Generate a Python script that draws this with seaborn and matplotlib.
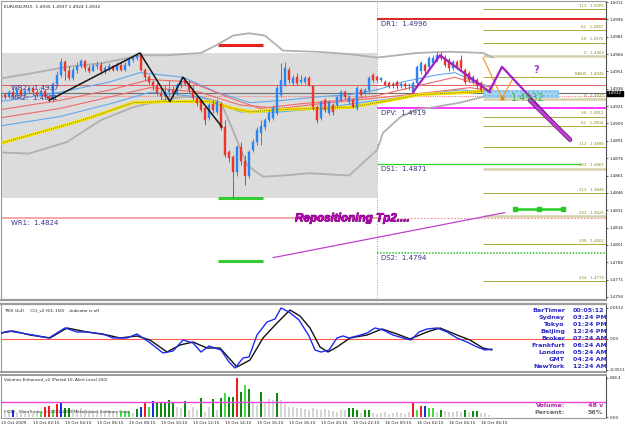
import numpy as np
import pandas as pd
import seaborn as sns
import matplotlib.pyplot as plt
import matplotlib.patheffects as pe
from matplotlib.patches import Rectangle
from matplotlib.transforms import blended_transform_factory

# ---------------- EURUSD M15 bars (bar 0 = 15 Oct 2009 00:15) ----------------
opens = [1.4926, 1.4931, 1.4929, 1.4933, 1.4931, 1.4935, 1.4931, 1.4934, 1.4937, 1.4933,
         1.4931, 1.4934, 1.4930, 1.4927, 1.4940, 1.4948, 1.4959, 1.4951, 1.4945, 1.4952,
         1.4956, 1.4960, 1.4954, 1.4951, 1.4956, 1.4957, 1.4951, 1.4954, 1.4956, 1.4952,
         1.4957, 1.4952, 1.4957, 1.4961, 1.4963, 1.4965, 1.4952, 1.4946, 1.4942, 1.4938,
         1.4932, 1.4930, 1.4933, 1.4935, 1.4932, 1.4939, 1.4944, 1.4940, 1.4935, 1.4928,
         1.4926, 1.4919, 1.4911, 1.4923, 1.4916, 1.4923, 1.4903, 1.4881, 1.4877, 1.4864,
         1.4886, 1.4874, 1.4861, 1.4883, 1.4890, 1.4898, 1.4903, 1.4909, 1.4911, 1.4915,
         1.4931, 1.4939, 1.4952, 1.4941, 1.4946, 1.4942, 1.4942, 1.4945, 1.4938, 1.4920,
         1.4911, 1.4926, 1.4915, 1.4922, 1.4922, 1.4926, 1.4933, 1.4925, 1.4926, 1.4919,
         1.4935, 1.4932, 1.4935, 1.4948, 1.4946, 1.4944, 1.4942, 1.4941, 1.4940, 1.4942,
         1.4938, 1.4940, 1.4938, 1.4933, 1.4941, 1.4951, 1.4957, 1.4955, 1.4958, 1.4961,
         1.4965, 1.4963, 1.4961, 1.4954, 1.4959, 1.4961, 1.4952, 1.4950, 1.4942, 1.4944,
         1.4941, 1.4933, 1.4935]
highs = [1.4932, 1.4932, 1.4935, 1.4936, 1.4937, 1.4937, 1.4936, 1.4938, 1.4938, 1.4935,
         1.4936, 1.4936, 1.4931, 1.4942, 1.4951, 1.4963, 1.4961, 1.4956, 1.4955, 1.4959,
         1.4962, 1.4961, 1.4957, 1.4958, 1.4960, 1.4959, 1.4957, 1.4958, 1.4957, 1.4959,
         1.4959, 1.4959, 1.4963, 1.4965, 1.4967, 1.4967, 1.4954, 1.4948, 1.4944, 1.4941,
         1.4937, 1.4939, 1.4944, 1.4938, 1.4941, 1.4946, 1.4946, 1.4944, 1.4938, 1.4931,
         1.4928, 1.4922, 1.4924, 1.4926, 1.4927, 1.4925, 1.4909, 1.4883, 1.4879, 1.4887,
         1.4890, 1.4879, 1.4883, 1.4893, 1.4903, 1.4909, 1.4911, 1.4918, 1.4922, 1.4939,
         1.4958, 1.4959, 1.4955, 1.4948, 1.4950, 1.4948, 1.4947, 1.4947, 1.4939, 1.4922,
         1.4926, 1.4928, 1.4926, 1.4924, 1.4931, 1.4935, 1.4935, 1.4931, 1.4928, 1.4938,
         1.4937, 1.4937, 1.4947, 1.4950, 1.4948, 1.4946, 1.4944, 1.4943, 1.4942, 1.4944,
         1.4942, 1.4942, 1.4941, 1.4943, 1.4957, 1.4960, 1.4958, 1.4964, 1.4965, 1.4968,
         1.4968, 1.4965, 1.4963, 1.4961, 1.4961, 1.4965, 1.4954, 1.4951, 1.4948, 1.4945,
         1.4943, 1.4937, 1.4937]
lows = [1.4925, 1.4927, 1.4928, 1.4929, 1.4930, 1.4930, 1.4931, 1.4932, 1.4931, 1.4929,
        1.4930, 1.4928, 1.4925, 1.4925, 1.4938, 1.4946, 1.4944, 1.4944, 1.4944, 1.4950,
        1.4954, 1.4951, 1.4950, 1.4951, 1.4953, 1.4949, 1.4949, 1.4951, 1.4951, 1.4951,
        1.4951, 1.4951, 1.4956, 1.4959, 1.4961, 1.4951, 1.4944, 1.4940, 1.4935, 1.4931,
        1.4927, 1.4926, 1.4929, 1.4929, 1.4931, 1.4937, 1.4938, 1.4932, 1.4926, 1.4921,
        1.4916, 1.4905, 1.4909, 1.4915, 1.4914, 1.4900, 1.4877, 1.4873, 1.4842, 1.4861,
        1.4870, 1.4853, 1.4859, 1.4881, 1.4887, 1.4887, 1.4900, 1.4907, 1.4909, 1.4913,
        1.4929, 1.4938, 1.4941, 1.4939, 1.4939, 1.4940, 1.4940, 1.4938, 1.4918, 1.4906,
        1.4909, 1.4916, 1.4913, 1.4913, 1.4919, 1.4925, 1.4927, 1.4923, 1.4919, 1.4918,
        1.4929, 1.4931, 1.4933, 1.4942, 1.4942, 1.4942, 1.4938, 1.4937, 1.4937, 1.4936,
        1.4937, 1.4936, 1.4935, 1.4932, 1.4939, 1.4949, 1.4949, 1.4953, 1.4957, 1.4959,
        1.4961, 1.4955, 1.4951, 1.4952, 1.4953, 1.4952, 1.4940, 1.4942, 1.4940, 1.4936,
        1.4933, 1.4931, 1.4931]
closes = [1.4931, 1.4929, 1.4933, 1.4931, 1.4935, 1.4931, 1.4934, 1.4937, 1.4933, 1.4931,
          1.4934, 1.4930, 1.4927, 1.4940, 1.4948, 1.4959, 1.4951, 1.4945, 1.4952, 1.4956,
          1.4960, 1.4954, 1.4951, 1.4956, 1.4957, 1.4951, 1.4954, 1.4956, 1.4952, 1.4957,
          1.4952, 1.4957, 1.4961, 1.4963, 1.4965, 1.4952, 1.4946, 1.4942, 1.4938, 1.4932,
          1.4930, 1.4933, 1.4935, 1.4932, 1.4939, 1.4944, 1.4940, 1.4935, 1.4928, 1.4924,
          1.4918, 1.4909, 1.4922, 1.4918, 1.4925, 1.4902, 1.4879, 1.4876, 1.4864, 1.4886,
          1.4874, 1.4861, 1.4881, 1.4890, 1.4900, 1.4904, 1.4909, 1.4915, 1.4919, 1.4937,
          1.4944, 1.4954, 1.4944, 1.4945, 1.4941, 1.4944, 1.4945, 1.4939, 1.4920, 1.4909,
          1.4925, 1.4918, 1.4925, 1.4916, 1.4929, 1.4933, 1.4929, 1.4929, 1.4920, 1.4937,
          1.4931, 1.4935, 1.4945, 1.4944, 1.4944, 1.4945, 1.4939, 1.4938, 1.4938, 1.4938,
          1.4940, 1.4938, 1.4939, 1.4941, 1.4955, 1.4958, 1.4951, 1.4963, 1.4963, 1.4965,
          1.4963, 1.4957, 1.4954, 1.4959, 1.4955, 1.4954, 1.4942, 1.4944, 1.4946, 1.4938,
          1.4935, 1.4935, 1.4932]

# tick volume and its "Volumes Enhanced" class (g=normal, b/r/L/D = signal bars)
volumes = [65, 65, 82, 115, 65, 82, 82, 65, 65, 82,
           82, 164, 180, 115, 213, 229, 147, 147, 131, 131,
           147, 98, 115, 98, 115, 98, 82, 115, 98, 82,
           98, 98, 98, 65, 131, 164, 229, 164, 262, 229,
           229, 229, 278, 246, 164, 147, 262, 115, 164, 115,
           311, 82, 164, 295, 115, 311, 393, 327, 327, 640,
           409, 524, 458, 246, 196, 409, 246, 295, 278, 393,
           278, 213, 164, 164, 147, 147, 131, 115, 147, 131,
           115, 131, 115, 98, 82, 115, 115, 147, 147, 115,
           65, 115, 115, 65, 49, 65, 82, 49, 65, 82,
           65, 49, 82, 229, 115, 180, 180, 147, 147, 82,
           115, 98, 82, 82, 98, 82, 115, 82, 98, 98,
           65, 65, 33]
vol_class = list("gggbggggggLrrLrbDDggggggggggggLLLgDbrLbDDDDD"
                 "ggDgggDggDgDLDDrDLDggDgggD" + "g" * 17 + "DDDgDD" + "g" * 10
                 + "rLrbLLgD" + "g" * 5 + "DgDDggg")

# indicator lines: bar index and price
band_up_x = [0, 7, 16.5, 25, 35, 41.5, 50, 54, 58, 62, 66, 70.5, 79, 87, 94, 104, 112, 120.5, 123]
band_up = [1.4945, 1.4949, 1.4955, 1.4958, 1.4965, 1.4965, 1.4967, 1.4974, 1.4982, 1.4984,
           1.4982, 1.4969, 1.4968, 1.4966, 1.4963, 1.4967, 1.4968, 1.4967, 1.4963]
band_lo_x = [0, 7, 16.5, 25, 33, 40, 45.5, 50, 55, 58, 61.5, 65.5, 70.5, 77, 87, 90.5, 94,
             95.5, 100, 104, 108, 114.75, 120.5, 123]
band_lo = [1.4881, 1.4880, 1.4890, 1.4909, 1.4920, 1.4926, 1.4929, 1.4929, 1.4924, 1.4900,
           1.4870, 1.4860, 1.4861, 1.4863, 1.4861, 1.4872, 1.4883, 1.4898, 1.4912, 1.4918,
           1.4920, 1.4924, 1.4929, 1.4935]
slow_ma_x = [0, 7.25, 16.5, 22.25, 33, 41.5, 52.25, 58, 62.25, 69.75, 79, 87.25, 94, 104.75, 117.25, 122.75]
slow_ma = [1.4889, 1.4896, 1.4905, 1.4911, 1.4924, 1.4925, 1.4925, 1.4919, 1.4916, 1.4918,
           1.4919, 1.4920, 1.4924, 1.4931, 1.4933, 1.4935]
blue_a_x = [0, 14.75, 27.25, 34.75, 45.5, 54, 62.25, 70.5, 79, 87.25, 94, 100.5, 109, 113.5, 117.25, 122.75]
blue_a = [1.4925, 1.4933, 1.4942, 1.4950, 1.4946, 1.4933, 1.4924, 1.4926, 1.4929, 1.4931,
          1.4935, 1.4942, 1.4948, 1.4950, 1.4944, 1.4937]
blue_b_x = [0, 14.75, 27.25, 37.25, 49.75, 59.75, 69.75, 79.75, 94, 104.75, 114.75, 122.75]
blue_b = [1.4904, 1.4912, 1.4923, 1.4933, 1.4929, 1.4916, 1.4916, 1.4919, 1.4926, 1.4931, 1.4935, 1.4933]
red_a_x = [0, 14.75, 27.25, 37.25, 47.25, 57.25, 64.75, 74.75, 84.75, 94, 104.75, 113.5, 117.25, 122.75]
red_a = [1.4918, 1.4926, 1.4935, 1.4944, 1.4942, 1.4928, 1.4919, 1.4923, 1.4926, 1.4930,
         1.4939, 1.4946, 1.4942, 1.4937]
red_b_x = [0, 14.75, 27.25, 37.25, 49.75, 59.75, 69.75, 82, 94, 107.25, 117.25, 122.75]
red_b = [1.4911, 1.4919, 1.4929, 1.4937, 1.4933, 1.4922, 1.4919, 1.4924, 1.4928, 1.4933, 1.4937, 1.4934]

zigzag_x = [12, 34.75, 42.25, 45.5, 55.25]
zigzag = [1.4926, 1.4967, 1.4925, 1.4946, 1.4903]
wave_x = [103, 109.75, 122.25]
wave = [1.4933, 1.4965, 1.4933]
proj_x = [122.25, 125.25, 142.25]
proj = [1.4935, 1.4955, 1.4892]
proj_bold_x = [132.25, 142.25]
proj_bold = [1.4926, 1.4892]
orange_x = [120.5, 125.25, 128]
orange = [1.4963, 1.4928, 1.4945]
tp_line_x = [68, 126]
tp_line = [1.4790, 1.4829]
tp_mark_x = [128.5, 134.5, 140.5]
tp_mark = [1.4832, 1.4832, 1.4832]

# pivot levels
pivot_names = ["DR1", "DPV", "DS1", "DS2"]
pivot_prices = [1.4996, 1.4919, 1.4871, 1.4794]
weekly_names = ["WR2", "MR2", "WR1"]
weekly_prices = [1.4937, 1.4931, 1.4824]
range_marks = [1.4974, 1.4842, 1.4787]

# fibonacci expansion
fib_names = ["112", "62", "38", "0", "BASIS", "0", "38", "62", "112", "162", "212", "262", "338", "424"]
fib_prices = [1.5005, 1.4987, 1.4976, 1.4964, 1.4946, 1.4927, 1.4912, 1.4904, 1.4886,
              1.4867, 1.4846, 1.4826, 1.4802, 1.4770]
fib_bold = ["0", "162", "262"]

# TRIX panel (bar index, value)
trix_x = [0, 2, 5, 8, 12, 16, 19, 21.5, 25.5, 28, 31.5, 34, 37, 40.5, 43, 45.5, 48, 50, 52, 55,
          57, 58.5, 60.5, 62, 64, 66.5, 68.5, 70, 72, 74.5, 77, 78.5, 80, 82, 84, 85.5, 87, 89,
          91.5, 93.5, 95.5, 98, 100.5, 102.5, 104.5, 106.5, 109, 111.5, 114, 116.5, 119, 121, 122.75]
trix = [0.0099, 0.0132, 0.0099, 0.0066, 0.0017, 0.0182, 0.0116, 0.0116, 0.0083, 0.0017,
        0.0017, 0.0083, -0.0050, -0.0231, -0.0198, -0.0017, -0.0066, -0.0215, -0.0116, -0.0182,
        -0.0380, -0.0479, -0.0314, -0.0297, 0.0066, 0.0281, 0.0330, 0.0512, 0.0446, 0.0314,
        0.0050, -0.0182, -0.0215, -0.0182, 0.0017, 0.0050, 0.0017, 0.0050, 0.0099, 0.0182,
        0.0149, 0.0066, 0.0017, -0.0017, 0.0116, 0.0165, 0.0182, 0.0116, 0.0017, -0.0050,
        -0.0132, -0.0182, -0.0165]
signal_x = [0, 3, 7.25, 12.25, 16.5, 21.5, 26.5, 29.75, 34, 37.25, 41.5, 44.75, 48, 51.5, 54.75,
            59, 62.25, 65.5, 69, 72.25, 74.75, 77.25, 79.75, 81.75, 84, 87.25, 91.5, 95.25, 99,
            102.25, 106.5, 109.75, 114, 117.25, 120.5, 122.75]
signal = [0.0099, 0.0132, 0.0066, 0.0017, 0.0182, 0.0116, 0.0066, 0.0017, 0.0050, -0.0017,
          -0.0215, -0.0099, -0.0050, -0.0149, -0.0149, -0.0462, -0.0347, 0.0017, 0.0264, 0.0479,
          0.0380, 0.0182, -0.0132, -0.0215, -0.0132, 0.0017, 0.0066, 0.0165, 0.0083, 0.0,
          0.0116, 0.0182, 0.0066, -0.0017, -0.0149, -0.0182]

tick_pos = [0, 8, 16, 24, 32, 40, 48, 56, 64, 72, 80, 88, 96, 104, 112, 120]
tick_labels = ["15 Oct 2009", "15 Oct 02:15", "15 Oct 04:15", "15 Oct 06:15", "15 Oct 08:15",
               "15 Oct 10:15", "15 Oct 12:15", "15 Oct 14:15", "15 Oct 16:15", "15 Oct 18:15",
               "15 Oct 20:15", "15 Oct 22:15", "16 Oct 00:15", "16 Oct 02:15", "16 Oct 04:15",
               "16 Oct 06:15"]

clock_names = ["BarTimer", "Sydney", "Tokyo", "Beijing", "Broker", "Frankfurt", "London", "GMT", "NewYork"]
clock_times = ["00:05:12", "03:24 PM", "01:24 PM", "12:24 PM", "07:24 AM", "06:24 AM",
               "05:24 AM", "04:24 AM", "12:24 AM"]

day_split = 94
last_price = closes[-1]

# ------------------------------------------------------------------
sns.set_theme(style="white")
plt.rcParams["font.family"] = ["DejaVu Sans"]

W, H = 625, 428
fig = plt.figure(figsize=(W / 100, H / 100), dpi=100)
fig.patch.set_facecolor("white")


def px_box(left, top, right, bottom):
    return [left / W, 1 - bottom / H, (right - left) / W, (bottom - top) / H]


ax = fig.add_axes(px_box(1, 1, 606, 300))
ax2 = fig.add_axes(px_box(1, 304, 606, 372), sharex=ax)
ax3 = fig.add_axes(px_box(1, 375, 606, 418), sharex=ax)

XMAX = 151.25
ax.set_xlim(0, XMAX)
ax.set_ylim(1.47534, 1.50119)
ax2.set_ylim(-0.0545, 0.0578)
ax3.set_ylim(-16, 687)

for a in (ax, ax2, ax3):
    a.set_facecolor("white")
    for s in a.spines.values():
        s.set_color("#9a9a9a")
        s.set_linewidth(0.8)
    a.spines["right"].set_color("#505050")
    a.yaxis.tick_right()
    a.tick_params(axis="y", labelsize=3, length=1.5, width=0.5, pad=1, colors="#202020")
    a.tick_params(axis="x", labelsize=3, length=1.5, width=0.5, pad=1, colors="#202020")
    a.grid(False)
ax.spines["bottom"].set_linewidth(1.6)
ax2.spines["top"].set_linewidth(1.6)
ax2.spines["bottom"].set_linewidth(1.4)
ax3.spines["top"].set_linewidth(1.4)
ax.tick_params(axis="x", bottom=False, labelbottom=False)
ax2.tick_params(axis="x", bottom=False, labelbottom=False)

# ---------------- main panel ----------------
bars = pd.DataFrame({"open": opens, "high": highs, "low": lows, "close": closes})
bars["idx"] = np.arange(len(bars))

day_hi = bars["high"][:day_split].max()
day_lo = bars["low"][:day_split].min()
ax.add_patch(Rectangle((0, day_lo), day_split, day_hi - day_lo, fc="#dcdcdc", ec="none", zorder=0))
ax.axvline(day_split, color="#8f9cc8", lw=0.7, ls=(0, (1, 1.5)), zorder=1)

# weekly / monthly levels
ax.hlines(1.4939, 0, XMAX, color="#e04a4a", lw=0.6, zorder=1)
ax.hlines(1.4930, 0, XMAX, color="#f08080", lw=0.8, ls=(0, (1, 1)), zorder=1)
ax.hlines(weekly_prices[2], 0, day_split, color="#f4a6a6", lw=1.4, zorder=1)
ax.hlines(weekly_prices[2], day_split, XMAX, color="#f09090", lw=0.8, ls=(0, (1.5, 1.5)), zorder=1)
ax.hlines(last_price, 0, XMAX, color="#6e6e6e", lw=0.8, zorder=1)

# daily pivots
ax.hlines(pivot_prices[0], day_split, XMAX, color="#e02525", lw=1.4, zorder=2)
ax.hlines(pivot_prices[1], day_split, XMAX, color="#ff10ff", lw=1.2, zorder=2)
ax.hlines(pivot_prices[2], day_split, 145, color="#2fd02f", lw=0.9, zorder=2)
ax.hlines(pivot_prices[3], day_split, XMAX, color="#2fbf2f", lw=1.1, ls=(0, (1, 1)), zorder=2)

lab_font = dict(fontsize=5, color="#34348a", family="DejaVu Sans", va="top", ha="left")
for name, p in zip(pivot_names, pivot_prices):
    ax.annotate(f"{name}:  {p:.4f}", xy=(day_split + 1, p), xytext=(0, -1.2),
                textcoords="offset points", zorder=6, **lab_font)
for name, p, dy in zip(weekly_names, weekly_prices, [2, -0.3, -1.2]):
    ax.annotate(f"{name}:  {p:.4f}", xy=(2.5, p), xytext=(0, dy),
                textcoords="offset points", zorder=6, **lab_font)

# fib levels
for name, p in zip(fib_names, fib_prices):
    bold = name in fib_bold
    ax.hlines(p, 120.5, XMAX, color="#d5d2a8" if bold else "#a9a93a",
              lw=1.8 if bold else 0.7, zorder=2)
    ax.annotate(f"{name}   {p:.4f}", xy=(XMAX - 0.6, p), xytext=(0, 0.8), textcoords="offset points",
                fontsize=2.8, color="#8c8c1e", ha="right", va="bottom", zorder=6)

# range marks
for p, c in zip(range_marks, ["#e82020", "#33cc33", "#33cc33"]):
    ax.hlines(p, 54.25, 65.5, color=c, lw=2.2, zorder=3)

# bands and moving averages
sns.lineplot(x=band_up_x, y=band_up, ax=ax, color="#b0b0b0", lw=1.3, zorder=3)
sns.lineplot(x=band_lo_x, y=band_lo, ax=ax, color="#b0b0b0", lw=1.3, zorder=3)
sns.lineplot(x=blue_a_x, y=blue_a, ax=ax, color="#5fa8f0", lw=0.8, zorder=3)
sns.lineplot(x=blue_b_x, y=blue_b, ax=ax, color="#5fa8f0", lw=0.8, zorder=3)
sns.lineplot(x=red_a_x, y=red_a, ax=ax, color="#f06a6a", lw=0.8, zorder=3)
sns.lineplot(x=red_b_x, y=red_b, ax=ax, color="#f06a6a", lw=0.8, zorder=3)
sns.lineplot(x=slow_ma_x, y=slow_ma, ax=ax, color="#f2e20a", lw=2.3, zorder=3)
ax.plot(slow_ma_x, slow_ma, color="#303000", lw=0.5, ls=(0, (1, 2)), zorder=3)

# candles
up = bars["close"] >= bars["open"]
cols = np.where(up, "#2a86f5", "#e8382e")
ax.vlines(bars["idx"], bars["low"], bars["high"], colors=cols, lw=0.7, zorder=4)
body_lo = bars[["open", "close"]].min(axis=1)
body_h = (bars["close"] - bars["open"]).abs().clip(lower=0.00006)
ax.bar(bars["idx"], body_h, bottom=body_lo, width=0.72, color=cols, edgecolor=cols, lw=0.3, zorder=5)

# zigzags, projection and annotations
ax.plot(zigzag_x, zigzag, color="#151515", lw=1.1, zorder=6)
ax.plot(wave_x, wave, color="#a020c8", lw=1.6, zorder=6)
ax.add_patch(Rectangle((120.5, 1.4929), 18.75, 0.0006, fc="#a6d6f2", ec="#74b8e8", lw=0.4,
                       hatch="....", zorder=5))
ax.plot(orange_x, orange, color="#f0a030", lw=0.9, zorder=6)
ax.plot(orange_x[1], orange[1], marker="x", color="#d08010", ms=3, mew=0.9, zorder=7)
ax.plot(proj_x, proj, color="#a020c8", lw=1.6, zorder=6)
ax.plot(proj_bold_x, proj_bold, color="#c040d8", lw=2.2, zorder=6,
        path_effects=[pe.Stroke(linewidth=3.2, foreground="#5a105a"), pe.Normal()])
ax.text(127.5, 1.4928, "1.4932", color="#3fae49", fontsize=7, va="center", ha="left", zorder=8)
ax.text(133, 1.4952, "?", color="#a040c8", fontsize=7, fontweight="bold", va="center", zorder=8)

ax.plot(tp_line_x, tp_line, color="#c040d0", lw=0.9, zorder=6)
ax.plot(tp_mark_x, tp_mark, color="#22cc22", lw=1.8, marker="s", ms=2.6, zorder=7)
ax.text(73.5, 1.4824, "Repositioning Tp2....", family="Liberation Sans", fontsize=8.4,
        fontweight="bold", fontstyle="italic", color="#c000c0", va="center", ha="left", zorder=8,
        path_effects=[pe.withStroke(linewidth=0.6, foreground="#5a005a")])

ax.text(0.005, 0.985, "EURUSD,M15  1.4935 1.4937 1.4924 1.4932", transform=ax.transAxes,
        fontsize=3.2, va="top", ha="left", color="#202020")

price_ticks = [round(1.5011 - 0.0015 * k, 4) for k in range(18)]
ax.set_yticks(price_ticks)
ax.set_yticklabels([f"{t:.4f}" for t in price_ticks])
tr = blended_transform_factory(ax.transAxes, ax.transData)
ax.text(1.003, last_price, f"{last_price:.4f}", transform=tr, fontsize=3, color="white",
        va="center", ha="left", clip_on=False, zorder=9,
        bbox=dict(fc="black", ec="black", pad=0.6))

# ---------------- TRIX panel ----------------
ax2.axhline(0, color="#ff5a4a", lw=0.8, zorder=1)
sns.lineplot(x=signal_x, y=signal, ax=ax2, color="#111111", lw=1.0, zorder=3)
sns.lineplot(x=trix_x, y=trix, ax=ax2, color="#1e2cf0", lw=1.0, zorder=4)
ax2.set_yticks([0.0512, 0.0, -0.0511])
ax2.set_yticklabels(["0.0512", "0.00", "-0.0511"])
ax2.text(0.005, 0.93, "TRIX (4,4)     CCI_v2 (63, 150)   -Indicator is off", transform=ax2.transAxes,
         fontsize=3, va="top", ha="left", color="#202020")
for k, (nm, tm) in enumerate(zip(clock_names, clock_times)):
    yy = 0.9 - 0.103 * k
    ax2.text(0.932, yy, nm, transform=ax2.transAxes, fontsize=4.6, fontweight="bold",
             color="#2b2bc8", ha="right", va="center")
    ax2.text(0.945, yy, tm, transform=ax2.transAxes, fontsize=4.6, fontweight="bold",
             color="#2b2bc8", ha="left", va="center")

# ---------------- volume panel ----------------
vol_colors = {"g": "#d6d6d6", "b": "#1a2ef0", "r": "#ee1c1c", "L": "#44dd44", "D": "#0c8a0c"}
ax3.bar(np.arange(len(volumes)), volumes, width=0.62,
        color=[vol_colors[c] for c in vol_class], lw=0, zorder=2)
ax3.axhline(250, color="#ee44dd", lw=1.0, zorder=3)
ax3.set_yticks([638.4, 0])
ax3.set_yticklabels(["638.4", "0.00"])
ax3.text(0.005, 0.95, "Volumes Enhanced_v2 (Period 10, Alert Level 250)", transform=ax3.transAxes,
         fontsize=3, va="top", ha="left", color="#202020")
ax3.text(0.005, 0.1, "FXDir - MetaTrader, \u00a9 2001-2009 MetaQuotes Software Corp.",
         transform=ax3.transAxes, fontsize=3, va="bottom", ha="left", color="#303030", zorder=4)
ax3.text(0.932, 0.3, "Volume:", transform=ax3.transAxes, fontsize=4.6, fontweight="bold",
         color="#a42ca4", ha="right", va="center")
ax3.text(0.995, 0.3, "48 v", transform=ax3.transAxes, fontsize=4.6, fontweight="bold",
         color="#a42ca4", ha="right", va="center")
ax3.text(0.932, 0.12, "Percent:", transform=ax3.transAxes, fontsize=4.6, fontweight="bold",
         color="#6a6a6a", ha="right", va="center")
ax3.text(0.995, 0.12, "56%", transform=ax3.transAxes, fontsize=4.6, fontweight="bold",
         color="#6a6a6a", ha="right", va="center")

ax3.set_xticks(tick_pos)
ax3.set_xticklabels(tick_labels, ha="left")
ax3.set_xlim(0, XMAX)

fig.savefig("out.png", dpi=100, facecolor="white")
